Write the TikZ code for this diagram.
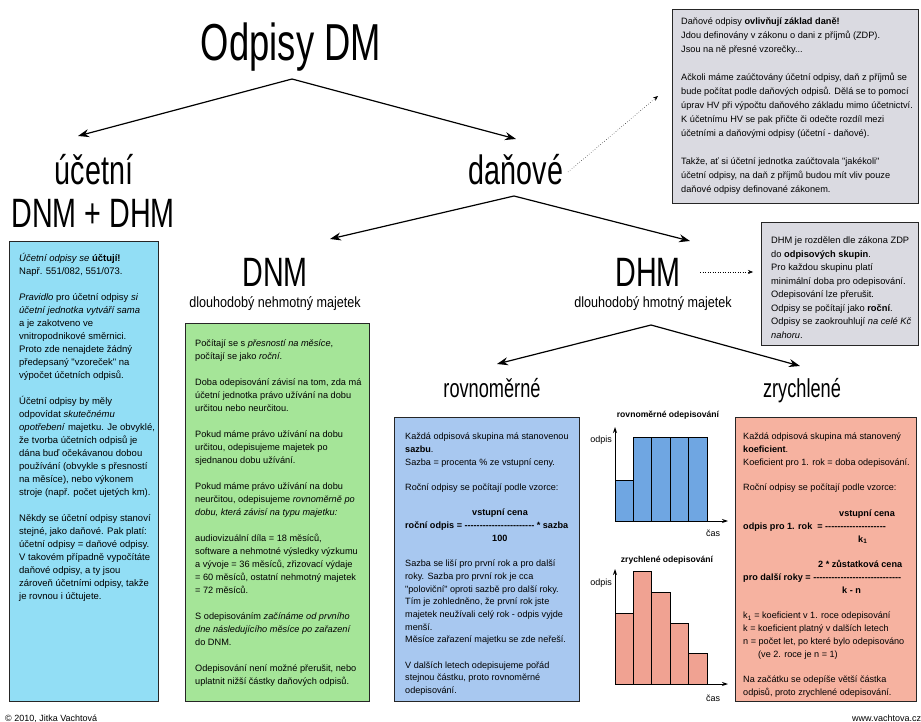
\documentclass[tikz,border=0pt]{standalone}
\usepackage{fontspec}
\setmainfont{Liberation Sans}
\newfontfamily\narrowfont{Liberation Sans}[FakeStretch=0.70]
\newfontfamily\semifont{Liberation Sans}[FakeStretch=0.85]
\usetikzlibrary{arrows.meta}

\definecolor{cyanpanel}{RGB}{146,222,245}
\definecolor{greenpanel}{RGB}{165,229,152}
\definecolor{bluepanel}{RGB}{168,200,240}
\definecolor{redpanel}{RGB}{246,178,160}
\definecolor{greypanel}{RGB}{218,218,225}
\definecolor{bluebar}{RGB}{111,166,226}
\definecolor{redbar}{RGB}{240,162,146}

% blank line between paragraphs inside a text block
\newcommand\emptyrow{\\[\baselineskip]}
% a run of separate hyphens used as a fraction bar
\newcommand\dashrun[1]{\foreach\dd in {1,...,#1}{\mbox{-}}}

\begin{document}
\begin{tikzpicture}[x=1pt, y=-1pt,
  panel/.style={draw=black!85, line width=0.9pt, anchor=north west, inner sep=0pt},
  bodytext/.style={anchor=north west, inner sep=0pt, align=left},
  biglabel/.style={anchor=base, inner sep=0pt, font=\narrowfont\fontsize{41}{44}\selectfont},
  sublabel/.style={anchor=base, inner sep=0pt, font=\semifont\fontsize{14.8}{16}\selectfont},
  kindlabel/.style={anchor=base, inner sep=0pt, font=\narrowfont\fontsize{26}{28}\selectfont},
  charttitle/.style={anchor=base, inner sep=0pt, font=\fontsize{8.6}{10}\selectfont\bfseries},
  chartlabel/.style={inner sep=0pt, font=\fontsize{9}{10}\selectfont},
  branch/.style={line width=1.2pt, -{Stealth[length=11pt,width=8pt]}},
  pointer/.style={line width=0.5pt, dotted, -{Stealth[length=5pt,width=4pt]}},
  axis/.style={line width=0.9pt, -{Stealth[length=6pt,width=4pt]}},
  bar/.style={draw=black, line width=0.8pt}]

\fill[white] (0,0) rectangle (921,722);
\useasboundingbox (0,0) rectangle (921,722);

% ---------- headings ----------
\node[anchor=base, inner sep=0pt, font=\narrowfont\fontsize{52}{56}\selectfont] (title) at (291,61) {Odpisy DM};
\node[biglabel] (ucetni) at (94,185) {účetní};
\node[biglabel] (dnmdhm) at (93,228) {DNM + DHM};
\node[biglabel] (danove) at (516,185) {daňové};
\node[biglabel] (dnm) at (275,286) {DNM};
\node[sublabel] (dnmsub) at (275,307) {dlouhodobý nehmotný majetek};
\node[biglabel] (dhm) at (648,286) {DHM};
\node[sublabel] (dhmsub) at (653,307) {dlouhodobý hmotný majetek};
\node[kindlabel] (rovno) at (492,397) {rovnoměrné};
\node[kindlabel] (zrych) at (802,397) {zrychlené};

% ---------- branching arrows ----------
\coordinate (titlefork) at (292,79);
\coordinate (ucetnitip) at (78,136);
\coordinate (danovetip) at (516,139);
\draw[branch] (titlefork) -- (ucetnitip);
\draw[branch] (titlefork) -- (danovetip);

\coordinate (danovefork) at (514,196);
\coordinate (dnmtip) at (330,239);
\coordinate (dhmtip) at (690,241);
\draw[branch] (danovefork) -- (dnmtip);
\draw[branch] (danovefork) -- (dhmtip);

\coordinate (dhmfork) at (651,325);
\coordinate (rovnotip) at (497,364);
\coordinate (zrychtip) at (800,366);
\draw[branch] (dhmfork) -- (rovnotip);
\draw[branch] (dhmfork) -- (zrychtip);

% ---------- grey note panels ----------
\node[panel, fill=greypanel, minimum width=246pt, minimum height=194pt] (taxpanel) at (672,9) {};
\node[bodytext, font=\fontsize{9.2}{14}\selectfont] (taxtext) at (681,14.2) {%
\strut Daňové odpisy \textbf{ovlivňují základ daně!}\\
Jdou definovány v zákonu o dani z příjmů (ZDP).\\
Jsou na ně přesné vzorečky...\emptyrow
Ačkoli máme zaúčtovány účetní odpisy, daň z příjmů se\\
bude počítat podle daňových odpisů. Dělá se to pomocí\\
úprav HV při výpočtu daňového základu mimo účetnictví.\\
K účetnímu HV se pak přičte či odečte rozdíl mezi\\
účetními a daňovými odpisy (účetní - daňové).\emptyrow
Takže, ať si účetní jednotka zaúčtovala \textquotedbl jakékoli\textquotedbl\\
účetní odpisy, na daň z příjmů budou mít vliv pouze\\
daňové odpisy definované zákonem.};

\node[panel, fill=greypanel, minimum width=157pt, minimum height=123pt] (dhmpanel) at (761,222) {};
\node[bodytext, font=\fontsize{9.3}{13.5}\selectfont] (dhmtext) at (771,234) {%
\strut DHM je rozdělen dle zákona ZDP\\
do \textbf{odpisových skupin}.\\
Pro každou skupinu platí\\
minimální doba pro odepisování.\\
Odepisování lze přerušit.\\
Odpisy se počítají jako \textbf{roční}.\\
Odpisy se zaokrouhlují \textit{na celé Kč}\\
\textit{nahoru}.};

\coordinate (taxpointer) at (658,96);
\coordinate (danovepointer) at (568,172);
\draw[pointer] (danovepointer) -- (taxpointer);
\coordinate (dhmpointer) at (700,272);
\coordinate (dhmpaneltip) at (753,272);
\draw[pointer] (dhmpointer) -- (dhmpaneltip);

% ---------- accounting depreciation ----------
\node[panel, fill=cyanpanel, minimum width=149pt, minimum height=460pt] (ucetpanel) at (9,241) {};
\node[bodytext, font=\fontsize{9.5}{13}\selectfont] (ucettext) at (19,252.5) {%
\strut\textit{Účetní odpisy se} \textbf{účtují!}\\
Např. 551/082, 551/073.\emptyrow
\textit{Pravidlo} pro účetní odpisy \textit{si}\\
\textit{účetní jednotka vytváří sama}\\
a je zakotveno ve\\
vnitropodnikové směrnici.\\
Proto zde nenajdete žádný\\
předepsaný \textquotedbl vzoreček\textquotedbl\ na\\
výpočet účetních odpisů.\emptyrow
Účetní odpisy by měly\\
odpovídat \textit{skutečnému}\\
\textit{opotřebení} majetku. Je obvyklé,\\
že tvorba účetních odpisů je\\
dána buď očekávanou dobou\\
používání (obvykle s přesností\\
na měsíce), nebo výkonem\\
stroje (např. počet ujetých km).\emptyrow
Někdy se účetní odpisy stanoví\\
stejné, jako daňové. Pak platí:\\
účetní odpisy = daňové odpisy.\\
V takovém případně vypočítáte\\
daňové odpisy, a ty jsou\\
zároveň účetními odpisy, takže\\
je rovnou i účtujete.};

% ---------- intangible assets ----------
\node[panel, fill=greenpanel, minimum width=184pt, minimum height=378pt] (dnmpanel) at (185,323) {};
\node[bodytext, font=\fontsize{9.2}{13}\selectfont] (dnmtext) at (195,337.4) {%
\strut Počítají se s \textit{přesností na měsíce},\\
počítají se jako \textit{roční}.\emptyrow
Doba odepisování závisí na tom, zda má\\
účetní jednotka právo užívání na dobu\\
určitou nebo neurčitou.\emptyrow
Pokud máme právo užívání na dobu\\
určitou, odepisujeme majetek po\\
sjednanou dobu užívání.\emptyrow
Pokud máme právo užívání na dobu\\
neurčitou, odepisujeme \textit{rovnoměrně po}\\
\textit{dobu, která závisí na typu majetku:}\emptyrow
audiovizuální díla = 18 měsíců,\\
software a nehmotné výsledky výzkumu\\
a vývoje = 36 měsíců, zřizovací výdaje\\
= 60 měsíců, ostatní nehmotný majetek\\
= 72 měsíců.\emptyrow
S odepisováním \textit{začínáme od prvního}\\
\textit{dne následujícího měsíce po zařazení}\\
do DNM.\emptyrow
Odepisování není možné přerušit, nebo\\
uplatnit nižší částky daňových odpisů.};

% ---------- straight-line depreciation ----------
\node[panel, fill=bluepanel, minimum width=185pt, minimum height=284pt] (rovnopanel) at (394,417) {};
\node[bodytext, font=\fontsize{9.1}{12.7}\selectfont] (rovnotext) at (405,430.6) {%
\strut Každá odpisová skupina má stanovenou\\
\textbf{sazbu}.\\
Sazba = procenta \% ze vstupní ceny.\emptyrow
Roční odpisy se počítají podle vzorce:\emptyrow
\hspace*{67pt}\textbf{vstupní cena}\\
\textbf{roční odpis = \dashrun{23} * sazba}\\
\hspace*{87pt}\textbf{100}\emptyrow
Sazba se liší pro první rok a pro další\\
roky. Sazba pro první rok je cca\\
\textquotedbl poloviční\textquotedbl\ oproti sazbě pro další roky.\\
Tím je zohledněno, že první rok jste\\
majetek neužívali celý rok - odpis vyjde\\
menší.\\
Měsíce zařazení majetku se zde neřeší.\emptyrow
V dalších letech odepisujeme pořád\\
stejnou částku, proto rovnoměrné\\
odepisování.};

% ---------- accelerated depreciation ----------
\node[panel, fill=redpanel, minimum width=181pt, minimum height=284pt] (zrychpanel) at (735,417) {};
\node[bodytext, font=\fontsize{9.1}{12.8}\selectfont] (zrychtext) at (743,430.5) {%
\strut Každá odpisová skupina má stanovený\\
\textbf{koeficient}.\\
Koeficient pro 1. rok = doba odepisování.\emptyrow
Roční odpisy se počítají podle vzorce:\emptyrow
\hspace*{96pt}\textbf{vstupní cena}\\
\textbf{odpis pro 1. rok\ \ = \dashrun{20}}\\
\hspace*{115pt}\textbf{k\textsubscript{1}}\emptyrow
\hspace*{75pt}\textbf{2 * zůstatková cena}\\
\textbf{pro další roky = \dashrun{29}}\\
\hspace*{99pt}\textbf{k - n}\emptyrow
k\textsubscript{1} = koeficient v 1. roce odepisování\\
k = koeficient platný v dalších letech\\
n = počet let, po které bylo odepisováno\\
\hspace*{15pt}(ve 2. roce je n = 1)\emptyrow
Na začátku se odepíše větší částka\\
odpisů, proto zrychlené odepisování.};

% ---------- chart: straight-line ----------
\node[charttitle] (chart1title) at (668,417) {rovnoměrné odepisování};
\draw[bar, fill=bluebar] (615,521) rectangle (633,480);
\draw[bar, fill=bluebar] (633,521) rectangle (651.5,437);
\draw[bar, fill=bluebar] (651.5,521) rectangle (670,437);
\draw[bar, fill=bluebar] (670,521) rectangle (688.5,437);
\draw[bar, fill=bluebar] (688.5,521) rectangle (707,437);
\draw[axis] (615,521) -- (615,427);
\draw[axis] (615,521) -- (728,521);
\node[chartlabel, anchor=east] (odpis1) at (612,440) {odpis};
\node[chartlabel] (cas1) at (713,533) {čas};

% ---------- chart: accelerated ----------
\node[charttitle] (chart2title) at (667,562) {zrychlené odepisování};
\draw[bar, fill=redbar] (615,684) rectangle (633,613);
\draw[bar, fill=redbar] (633,684) rectangle (651.5,571);
\draw[bar, fill=redbar] (651.5,684) rectangle (670,592);
\draw[bar, fill=redbar] (670,684) rectangle (688.5,623);
\draw[bar, fill=redbar] (688.5,684) rectangle (707,653);
\draw[axis] (615,684) -- (615,569);
\draw[axis] (615,684) -- (728,684);
\node[chartlabel, anchor=east] (odpis2) at (612,583) {odpis};
\node[chartlabel] (cas2) at (713,698) {čas};

% ---------- footer ----------
\node[anchor=base west, inner sep=0pt, font=\fontsize{9}{10}\selectfont] (author) at (5,721) {© 2010, Jitka Vachtová};
\node[anchor=base west, inner sep=0pt, font=\fontsize{9}{10}\selectfont] (web) at (852,721) {www.vachtova.cz};
\end{tikzpicture}
\end{document}
